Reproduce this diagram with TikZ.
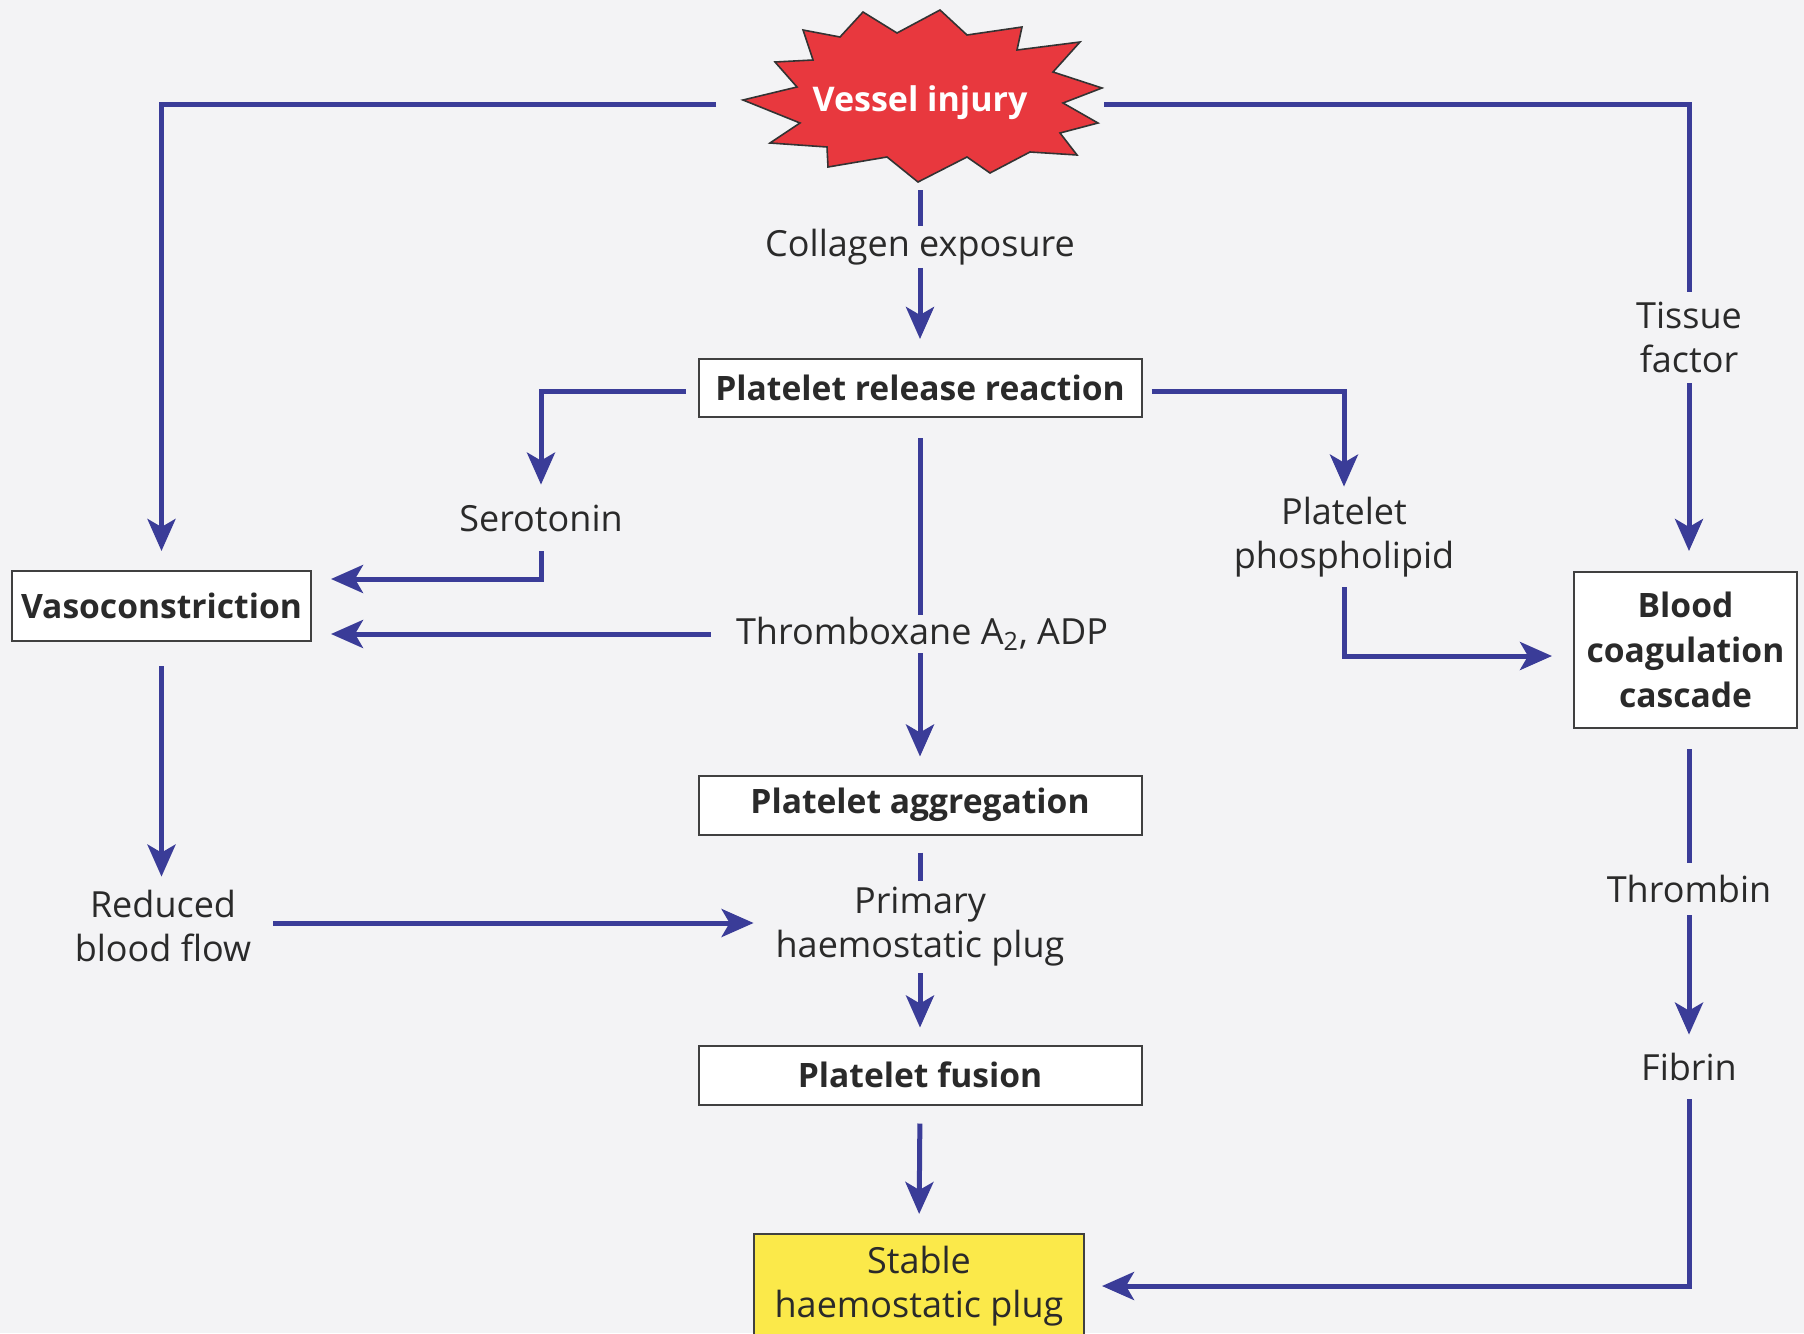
\documentclass[tikz,border=0pt]{standalone}
\usepackage{fontspec}
\setmainfont{Open Sans}
\usetikzlibrary{arrows.meta}
\definecolor{lineblue}{HTML}{3A3C98}
\definecolor{txt}{HTML}{2A2A2A}
\definecolor{bg}{HTML}{F3F3F5}
\definecolor{injred}{HTML}{E8383E}
\definecolor{plugyellow}{HTML}{FBE94A}
\definecolor{boxgray}{HTML}{404040}
\newcommand\boxfnt{\fontsize{16.8pt}{22.5pt}\selectfont\bfseries}
\newcommand\burstfnt{\fontsize{17pt}{22pt}\selectfont\bfseries}
\newcommand\lblfnt{\fontsize{18pt}{22pt}\selectfont}
\begin{document}
\begin{tikzpicture}[x=0.5pt,y=-0.5pt,
  box/.style={draw=boxgray, line width=1pt, fill=white, text=txt, font=\boxfnt, inner sep=0pt, align=center},
  lbl/.style={text=txt, font=\lblfnt, inner sep=0pt, align=center},
  conn/.style={draw=lineblue, line width=2.5pt},
  arr/.style={conn, -{Stealth[length=16pt,width=14pt,inset=4pt]}},
  burst/.style={fill=injred, draw=black!80, line width=0.8pt, line join=miter}]
\useasboundingbox (0,0) rectangle (1804,1333);
\fill[bg] (0,0) rectangle (1804,1333);

% starburst
\path[burst] (863,12) -- (897,33) -- (940,10) -- (967,35) -- (1022,27) -- (1017,50)
  -- (1080,42) -- (1053,72) -- (1102,88) -- (1063,103) -- (1098,123) -- (1060,133)
  -- (1077,155) -- (1030,152) -- (990,173) -- (967,157) -- (918,182) -- (887,157)
  -- (828,167) -- (827,147) -- (770,143) -- (800,123) -- (743,100) -- (797,87)
  -- (775,62) -- (813,60) -- (803,30) -- (840,37) -- cycle;
\node[text=white, font=\burstfnt, inner sep=0pt] (inj) at (920,103) {Vessel injury};

\node[lbl, minimum height=20.5pt] (coll) at (920,247) {Collagen exposure};
\node[box, minimum width=221.5pt, minimum height=29pt] (prr) at (920,388) {Platelet release reaction};
\node[lbl, minimum height=33pt] (sero) at (541,518) {Serotonin};
\node[lbl, minimum height=50pt] (phos) at (1344,537) {Platelet\\phospholipid};
\node[box, minimum width=149.5pt, minimum height=35pt] (vaso) at (161.5,606) {Vasoconstriction};
\node[lbl, minimum width=211pt, minimum height=19pt] (thx) at (922,634) {Thromboxane A\textsubscript{2}, ADP};
\node[lbl, minimum height=45.5pt] (tis) at (1689,337.5) {Tissue\\factor};
\node[box, minimum width=111.5pt, minimum height=78pt] (bcc) at (1685.5,650) {Blood\\coagulation\\cascade};
\node[box, minimum width=221.5pt, minimum height=29.5pt] (pagg) at (920,805) {Platelet aggregation};
\node[lbl, minimum width=110pt, minimum height=49pt] (red) at (163,926) {Reduced\\blood flow};
\node[lbl, minimum width=166pt, minimum height=46pt] (prim) at (920,927) {Primary\\haemostatic plug};
\node[box, minimum width=221.5pt, minimum height=29.5pt] (fus) at (920,1075) {Platelet fusion};
\node[box, fill=plugyellow, font=\lblfnt, minimum width=165pt, minimum height=52pt, anchor=north] (stab) at (919,1233) {Stable\\haemostatic plug};
\node[lbl, minimum height=26pt] (thr) at (1689,889) {Thrombin};
\node[lbl, minimum height=32pt] (fib) at (1689,1067) {Fibrin};

% connectors
\draw[arr, shorten >=9.5pt] ([xshift=-102pt,yshift=-0.5pt]inj.center) -| (vaso.north);
\draw[conn] ([xshift=92pt,yshift=-0.5pt]inj.center) -| (tis.north);
\draw[arr, shorten >=10pt] (tis.south) -- (tis.south |- bcc.north);
\draw[conn] ([yshift=-43.5pt]inj.center) -- (coll.north);
\draw[arr, shorten >=9.5pt] (coll.south) -- (prr.north);
\draw[arr] ([xshift=-6pt,yshift=-1.5pt]prr.west) -| (sero.north);
\draw[arr, shorten >=9.5pt] (sero.south) |- ([yshift=13.5pt]vaso.east);
\draw[arr, shorten >=9.5pt] (thx.west) -- (vaso.east |- thx.west);
\draw[arr] ([xshift=4.5pt,yshift=-1.5pt]prr.east) -| (phos.north);
\draw[arr, shorten >=10.5pt] (phos.south) |- ([yshift=-3pt]bcc.west);
\draw[conn, shorten <=10pt] (prr.south) -- (prr.south |- thx.north);
\draw[arr, shorten >=9pt] (prr.south |- thx.south) -- (pagg.north);
\draw[conn, shorten <=8.5pt] (pagg.south) -- (prim.north);
\draw[arr, shorten >=8.5pt] (prim.south) -- (fus.north);
\draw[arr, shorten <=12pt] (vaso.south) -- (vaso.south |- red.north);
\draw[arr] ([yshift=1.5pt]red.east) -- ([yshift=1.5pt]red.east -| prim.west);
\draw[arr, shorten <=9pt, shorten >=9.5pt] (fus.south) -- (stab.north);
\draw[conn, shorten <=10pt] (thr.north |- bcc.south) -- (thr.north);
\draw[arr] (thr.south) -- (fib.north);
\draw[arr, shorten >=8.5pt] (fib.south) |- (stab.east);
\end{tikzpicture}
\end{document}
